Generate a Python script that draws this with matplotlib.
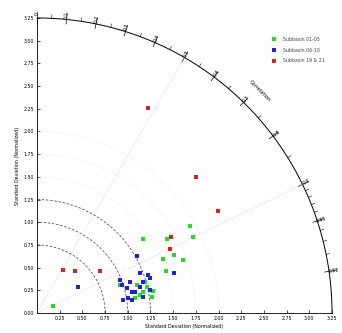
import numpy as np
import matplotlib
matplotlib.use("Agg")
import matplotlib.pyplot as plt

# normalized std and correlation of each group
green_std = [0.965, 1.143, 1.237, 1.190, 1.279, 1.151, 1.092, 1.245, 1.300,
             0.19, 1.43, 1.94, 1.91, 1.65, 1.64, 1.51, 1.71, 1.50]
green_cor = [0.947, 0.963, 0.961, 0.981, 0.990, 0.985, 0.988, 0.973, 0.983,
             0.91, 0.82, 0.87, 0.90, 0.87, 0.92, 0.92, 0.94, 0.95]
blue_std = [0.535, 1.268, 1.217, 1.572, 0.984, 0.985, 1.079, 1.292, 1.303, 1.216,
            1.029, 1.071, 0.958, 1.016, 1.056, 1.180, 1.270, 1.170, 1.104]
blue_cor = [0.845, 0.868, 0.932, 0.960, 0.929, 0.950, 0.949, 0.946, 0.955, 0.960,
            0.963, 0.976, 0.989, 0.987, 0.991, 0.989, 0.980, 0.970, 0.978]
red_std = [2.57, 2.31, 2.29, 1.70, 1.63, 0.55, 0.63, 0.835]
red_cor = [0.476, 0.76, 0.87, 0.87, 0.90, 0.52, 0.67, 0.83]
series_names = ["Subbasin 01-05", "Subbasin 06-10", "Subbasin 19 & 21"]

std_ticks = [0.25, 0.5, 0.75, 1.0, 1.25, 1.5, 1.75, 2.0, 2.25, 2.5, 2.75, 3.0, 3.25]
cor_major = [0, 0.1, 0.2, 0.3, 0.4, 0.5, 0.6, 0.7, 0.8, 0.9, 0.95, 0.99]
cor_minor = [0.05, 0.15, 0.25, 0.35, 0.45, 0.55, 0.65, 0.75, 0.85,
             0.91, 0.92, 0.93, 0.94, 0.96, 0.97, 0.98]
dashed_arcs = [0.75, 1.0, 1.25]
light_arcs = [1.5, 1.75, 2.0]
radial_lines = [0.5, 0.9]
rmax = 3.25

fig = plt.figure(figsize=(3.42, 3.33), dpi=100)
ax = fig.add_axes([0.108, 0.06, 0.863, 0.886])
ax.set_xlim(0, rmax)
ax.set_ylim(0, rmax)
ax.set_aspect("equal")
for s in ["top", "right"]:
    ax.spines[s].set_visible(False)
for s in ["left", "bottom"]:
    ax.spines[s].set_linewidth(0.6)

fs = 3.4
ax.set_xticks(std_ticks)
ax.set_xticklabels(["%.2f" % v for v in std_ticks])
ax.set_yticks([0] + std_ticks)
ax.set_yticklabels(["%.2f" % v for v in [0] + std_ticks])
ax.tick_params(direction="in", length=2.5, width=0.5, labelsize=fs, pad=2)
ax.set_xlabel("Standard Deviation (Normalized)", fontsize=fs, labelpad=2)
ax.set_ylabel("Standard Deviation (Normalized)", fontsize=fs, labelpad=3)

t = np.linspace(0, np.pi / 2, 300)
# outer correlation arc
ax.plot(rmax * np.cos(t), rmax * np.sin(t), color="k", lw=0.7, clip_on=False)
for c in cor_major:
    th = np.arccos(c)
    r = np.array([rmax - 0.05, rmax + 0.07])
    ax.plot(r * np.cos(th), r * np.sin(th), color="k", lw=0.5, clip_on=False)
    lr = rmax + 0.05
    ax.text(lr * np.cos(th), lr * np.sin(th), "%g" % c, fontsize=fs,
            rotation=np.degrees(th), ha="center", va="center", rotation_mode="anchor")
for c in cor_minor:
    th = np.arccos(c)
    r = np.array([rmax, rmax + 0.04])
    ax.plot(r * np.cos(th), r * np.sin(th), color="k", lw=0.4, clip_on=False)
ax.text(2.45, 2.45, "Correlation", fontsize=fs + 0.3, rotation=-45,
        ha="center", va="center")

for rr in dashed_arcs:
    ax.plot(rr * np.cos(t), rr * np.sin(t), color="#555555", lw=0.6, ls=(0, (3, 2)))
for rr in light_arcs:
    ax.plot(rr * np.cos(t), rr * np.sin(t), color="#dddddd", lw=0.5, ls=":")
for c in radial_lines:
    th = np.arccos(c)
    ax.plot([0, rmax * np.cos(th)], [0, rmax * np.sin(th)], color="#bbbbbb",
            lw=0.5, ls=":")

groups = [(green_std, green_cor, "#22dd22"),
          (blue_std, blue_cor, "#2222cc"),
          (red_std, red_cor, "#e02020")]
for (sd, cr, col), name in zip(groups, series_names):
    sd = np.array(sd)
    th = np.arccos(np.array(cr))
    ax.plot(sd * np.cos(th), sd * np.sin(th), ls="none", marker="s",
            ms=3.0, color=col, mew=0, label=name, clip_on=False)

ax.legend(loc="upper left", bbox_to_anchor=(0.78, 0.95), frameon=False,
          fontsize=fs, handlelength=1.0, handletextpad=1.4, labelspacing=1.2,
          markerscale=1.0, labelcolor="#444444")

fig.savefig("out.png", dpi=100)
